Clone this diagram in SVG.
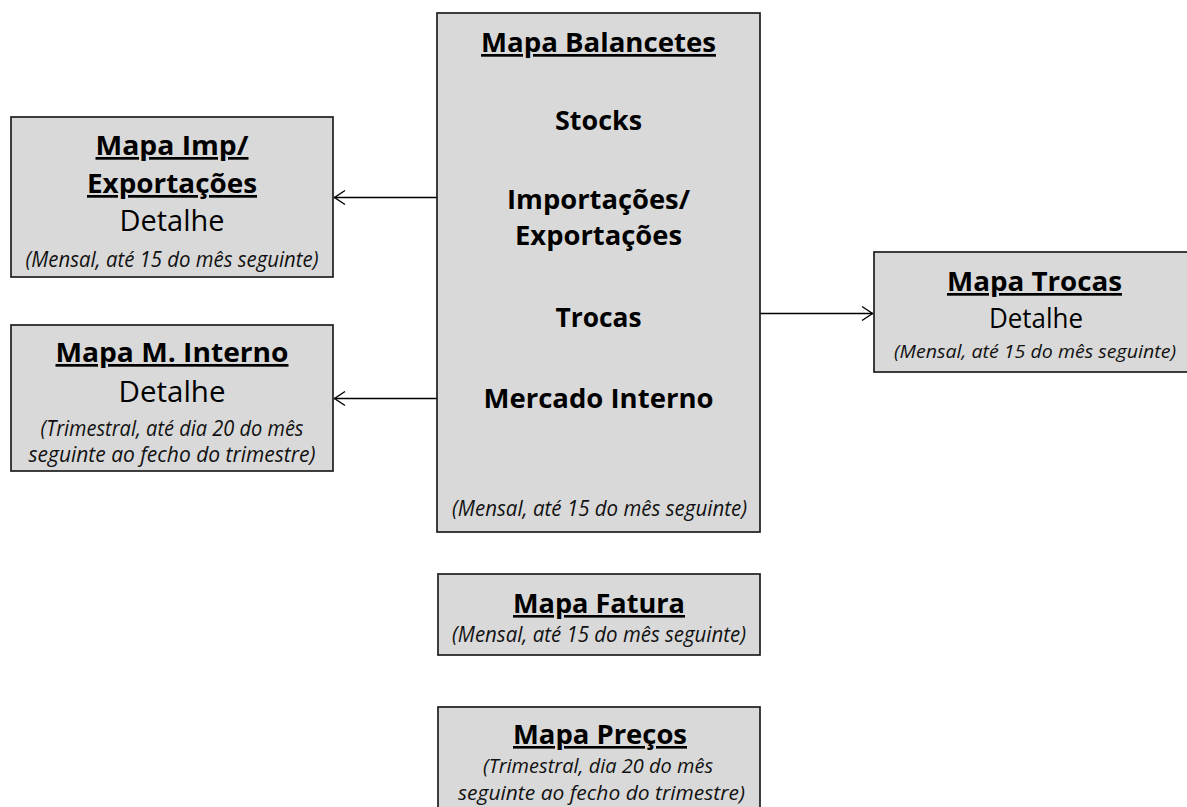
<svg xmlns="http://www.w3.org/2000/svg" width="1187" height="807" viewBox="0 0 1187 807">
<style>
  .box { fill: #d9d9d9; stroke: #1e1e1e; stroke-width: 1.7; }
  text { font-family: "Open Sans", "Noto Sans", "Liberation Sans", sans-serif; fill: #000; text-anchor: middle; }
  .t { font-weight: 700; font-size: 27px; }
  .u { text-decoration: underline; }
  .d { font-weight: 400; font-size: 29px; }
  .i { font-style: italic; font-size: 21px; fill: #111; }
  .conn { stroke: #000; stroke-width: 1.4; fill: none; }
  .head { stroke: #000; stroke-width: 1.4; fill: none; stroke-linejoin: miter; }
</style>
<rect width="1187" height="807" fill="#fff"/>

<g id="connectors">
  <line class="conn" x1="437" y1="197.5" x2="334" y2="197.5"/>
  <path class="head" d="M345,190.5 L334.5,197.5 L345,204.5"/>
  <line class="conn" x1="437" y1="398.5" x2="334" y2="398.5"/>
  <path class="head" d="M345,391.5 L334.5,398.5 L345,405.5"/>
  <line class="conn" x1="760" y1="313.5" x2="873" y2="313.5"/>
  <path class="head" d="M862,306.5 L872.5,313.5 L862,320.5"/>
</g>

<g id="mapa-imp-exp">
  <rect class="box" x="11" y="117" width="322" height="160"/>
  <text class="t u" x="172" y="155" textLength="153" lengthAdjust="spacingAndGlyphs">Mapa Imp/</text>
  <text class="t u" x="172" y="193" textLength="170" lengthAdjust="spacingAndGlyphs">Exportações</text>
  <text class="d" x="172" y="231" textLength="105" lengthAdjust="spacingAndGlyphs">Detalhe</text>
  <text class="i" x="172" y="267" textLength="293" lengthAdjust="spacingAndGlyphs">(Mensal, até 15 do mês seguinte)</text>
</g>

<g id="mapa-m-interno">
  <rect class="box" x="11" y="325" width="322" height="146"/>
  <text class="t u" x="172" y="362" textLength="233" lengthAdjust="spacingAndGlyphs">Mapa M. Interno</text>
  <text class="d" x="172" y="402" textLength="107" lengthAdjust="spacingAndGlyphs">Detalhe</text>
  <text class="i" x="172" y="436" textLength="263" lengthAdjust="spacingAndGlyphs">(Trimestral, até dia 20 do mês</text>
  <text class="i" x="172" y="462" textLength="287" lengthAdjust="spacingAndGlyphs">seguinte ao fecho do trimestre)</text>
</g>

<g id="mapa-balancetes">
  <rect class="box" x="437" y="13" width="323" height="519"/>
  <text class="t u" x="598.5" y="52" textLength="235" lengthAdjust="spacingAndGlyphs">Mapa Balancetes</text>
  <text class="t" x="598.5" y="130" textLength="87" lengthAdjust="spacingAndGlyphs">Stocks</text>
  <text class="t" x="598.5" y="209" textLength="183" lengthAdjust="spacingAndGlyphs">Importações/</text>
  <text class="t" x="598.5" y="245" textLength="167" lengthAdjust="spacingAndGlyphs">Exportações</text>
  <text class="t" x="598.5" y="327" textLength="86" lengthAdjust="spacingAndGlyphs">Trocas</text>
  <text class="t" x="598.5" y="408" textLength="230" lengthAdjust="spacingAndGlyphs">Mercado Interno</text>
  <text class="i" x="599.5" y="516" textLength="295" lengthAdjust="spacingAndGlyphs">(Mensal, até 15 do mês seguinte)</text>
</g>

<g id="mapa-trocas">
  <rect class="box" x="874" y="252" width="330" height="120"/>
  <text class="t u" x="1034.5" y="291" textLength="175" lengthAdjust="spacingAndGlyphs">Mapa Trocas</text>
  <text class="d" x="1036" y="328" style="font-size:27px" textLength="94" lengthAdjust="spacingAndGlyphs">Detalhe</text>
  <text class="i" x="1035" y="358" style="font-size:19px" textLength="282" lengthAdjust="spacingAndGlyphs">(Mensal, até 15 do mês seguinte)</text>
</g>

<g id="mapa-fatura">
  <rect class="box" x="438" y="574" width="322" height="81"/>
  <text class="t u" x="599" y="613" style="font-size:26px" textLength="172" lengthAdjust="spacingAndGlyphs">Mapa Fatura</text>
  <text class="i" x="599" y="642" textLength="294" lengthAdjust="spacingAndGlyphs">(Mensal, até 15 do mês seguinte)</text>
</g>

<g id="mapa-precos">
  <rect class="box" x="438" y="707" width="322" height="110"/>
  <text class="t u" x="600" y="744" style="font-size:26px" textLength="174" lengthAdjust="spacingAndGlyphs">Mapa Preços</text>
  <text class="i" x="598" y="773" style="font-size:19.5px" textLength="230" lengthAdjust="spacingAndGlyphs">(Trimestral, dia 20 do mês</text>
  <text class="i" x="601.5" y="800" style="font-size:19.5px" textLength="287" lengthAdjust="spacingAndGlyphs">seguinte ao fecho do trimestre)</text>
</g>
</svg>
